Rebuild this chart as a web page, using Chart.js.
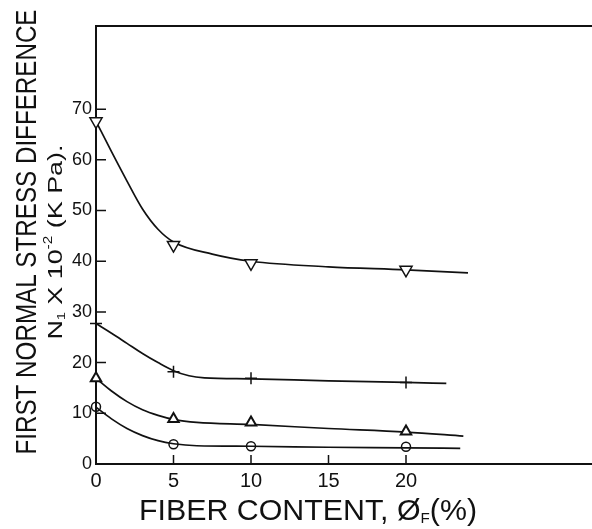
<!DOCTYPE html>
<html>
<head>
<meta charset="utf-8">
<script src="https://cdn.jsdelivr.net/npm/chart.js@4/dist/chart.umd.min.js"></script>
<style>
  html, body { margin: 0; padding: 0; background: #fff; }
  #chart { display: block; }
</style>
</head>
<body>
<canvas id="chart" width="592" height="529"></canvas>
<script>
// Measured points (fiber content %, N1 x 10^-2 kPa)
const fiber = [0, 5, 10, 20];
const n1Down = [67.6, 43.2, 39.6, 38.3];
const n1Plus = [27.7, 18.2, 16.9, 16.1];
const n1Tri = [16.9, 8.9, 8.2, 6.4];
const n1Circ = [11.3, 3.9, 3.5, 3.4];

// Hand-drawn smooth curves through each set, [x, y]
const fitDown = [[0, 67.6], [1, 61.6], [2, 55.8], [3, 50.3], [4, 46.3], [5, 43.8], [7.5, 41.4], [10, 40], [15, 38.9], [20, 38.3], [24, 37.7]];
const fitPlus = [[0, 27.7], [1, 25.8], [2, 23.8], [3, 21.8], [4, 20], [5, 18.4], [6, 17.4], [7, 17], [10, 16.8], [15, 16.4], [20, 16.1], [22.6, 15.9]];
const fitTri = [[0, 16.9], [1, 14.4], [2, 12.3], [3, 10.7], [4, 9.6], [5, 8.8], [6.5, 8.2], [10, 7.8], [15, 7.0], [20, 6.3], [23.7, 5.5]];
const fitCirc = [[0, 11.2], [1, 8.9], [2, 7.0], [3, 5.6], [4, 4.6], [5, 4.0], [6.5, 3.6], [10, 3.5], [15, 3.3], [20, 3.2], [23.5, 3.1]];

const xTicks = [0, 5, 10, 15, 20];
const yTicks = [0, 10, 20, 30, 40, 50, 60, 70];

const INK = '#111';
const FONT = '"Liberation Sans", Arial, sans-serif';
const pts = ys => fiber.map((x, i) => ({ x, y: ys[i] }));
const curve = arr => arr.map(([x, y]) => ({ x, y }));

function marks(data, style) {
  return Object.assign({
    data, showLine: false, clip: false, borderColor: INK, backgroundColor: '#fff',
    pointBorderColor: INK, pointBackgroundColor: '#fff', pointBorderWidth: 1.5
  }, style);
}

function fit(data) {
  return {
    data, showLine: true, pointRadius: 0, borderColor: INK, borderWidth: 1.7,
    cubicInterpolationMode: 'monotone', fill: false
  };
}

// draw a run of text pieces squeezed along the baseline to a given length
function drawRuns(ctx, runs, cx, cy, length, rotate) {
  ctx.save();
  ctx.translate(cx, cy);
  if (rotate) ctx.rotate(-Math.PI / 2);
  let w = 0;
  for (const r of runs) {
    ctx.font = r.size + 'px ' + FONT;
    r.w = ctx.measureText(r.text).width;
    w += r.w;
  }
  ctx.scale(length / w, 1);
  ctx.fillStyle = INK;
  ctx.textAlign = 'left';
  ctx.textBaseline = 'alphabetic';
  let x = -w / 2;
  for (const r of runs) {
    ctx.font = r.size + 'px ' + FONT;
    ctx.fillText(r.text, x, r.dy || 0);
    x += r.w;
  }
  ctx.restore();
}

const lettering = {
  id: 'lettering',
  afterDraw(chart) {
    const ctx = chart.ctx;
    const { left, right, top, bottom } = chart.chartArea;
    const xs = chart.scales.x, ys = chart.scales.y;

    ctx.save();
    ctx.strokeStyle = INK;
    ctx.lineWidth = 2;
    // top edge of the frame
    ctx.beginPath();
    ctx.moveTo(left, top);
    ctx.lineTo(right, top);
    ctx.stroke();
    // inward tick marks
    ctx.lineWidth = 1.5;
    ctx.beginPath();
    for (const v of yTicks) {
      if (v === 0) continue;
      const py = ys.getPixelForValue(v);
      ctx.moveTo(left, py);
      ctx.lineTo(left + 10, py);
    }
    for (const v of xTicks) {
      if (v === 0) continue;
      const px = xs.getPixelForValue(v);
      ctx.moveTo(px, bottom);
      ctx.lineTo(px, bottom - 9);
    }
    ctx.stroke();
    ctx.restore();

    // axis titles
    drawRuns(ctx, [{ text: 'FIRST NORMAL STRESS DIFFERENCE', size: 29 }], 36, 232, 445, true);
    drawRuns(ctx, [
      { text: 'N', size: 21 },
      { text: '1', size: 11, dy: 3 },
      { text: ' X 10', size: 21 },
      { text: '-2', size: 12, dy: -10 },
      { text: ' (K Pa).', size: 21 }
    ], 62, 242, 195, true);
    drawRuns(ctx, [
      { text: 'FIBER CONTENT, Ø', size: 30 },
      { text: 'F', size: 15, dy: 3 },
      { text: '(%)', size: 30 }
    ], 308, 520, 338, false);
  }
};

new Chart(document.getElementById('chart'), {
  type: 'scatter',
  data: {
    datasets: [
      marks(pts(n1Down), { pointStyle: 'triangle', rotation: 180, pointRadius: 7 }),
      marks(pts(n1Plus), { pointStyle: 'cross', pointRadius: 6 }),
      marks(pts(n1Tri), { pointStyle: 'triangle', pointRadius: 6, pointBorderWidth: 2 }),
      marks(pts(n1Circ), { pointStyle: 'circle', pointRadius: 4.5, pointBackgroundColor: 'rgba(0,0,0,0)' }),
      fit(curve(fitDown)),
      fit(curve(fitPlus)),
      fit(curve(fitTri)),
      fit(curve(fitCirc))
    ]
  },
  options: {
    responsive: false,
    animation: false,
    devicePixelRatio: 1,
    layout: { autoPadding: false, padding: { top: 26, right: 0, left: 0, bottom: 0 } },
    plugins: { legend: { display: false }, tooltip: { enabled: false } },
    scales: {
      x: {
        type: 'linear', min: 0, max: 32,
        afterBuildTicks: s => { s.ticks = xTicks.map(v => ({ value: v })); },
        afterFit: s => { s.height = 65; s.paddingLeft = 0; s.paddingRight = 0; },
        grid: { display: false, drawTicks: false },
        border: { display: true, color: INK, width: 2 },
        ticks: { color: INK, padding: 5, font: { family: FONT, size: 20 } }
      },
      y: {
        type: 'linear', min: 0, max: 86.4,
        afterBuildTicks: s => { s.ticks = yTicks.map(v => ({ value: v })); },
        afterFit: s => { s.width = 96; s.paddingTop = 0; s.paddingBottom = 0; },
        grid: { display: false, drawTicks: false },
        border: { display: true, color: INK, width: 2 },
        ticks: { color: INK, padding: 4, font: { family: FONT, size: 18 } }
      }
    }
  },
  plugins: [lettering]
});
</script>
</body>
</html>
